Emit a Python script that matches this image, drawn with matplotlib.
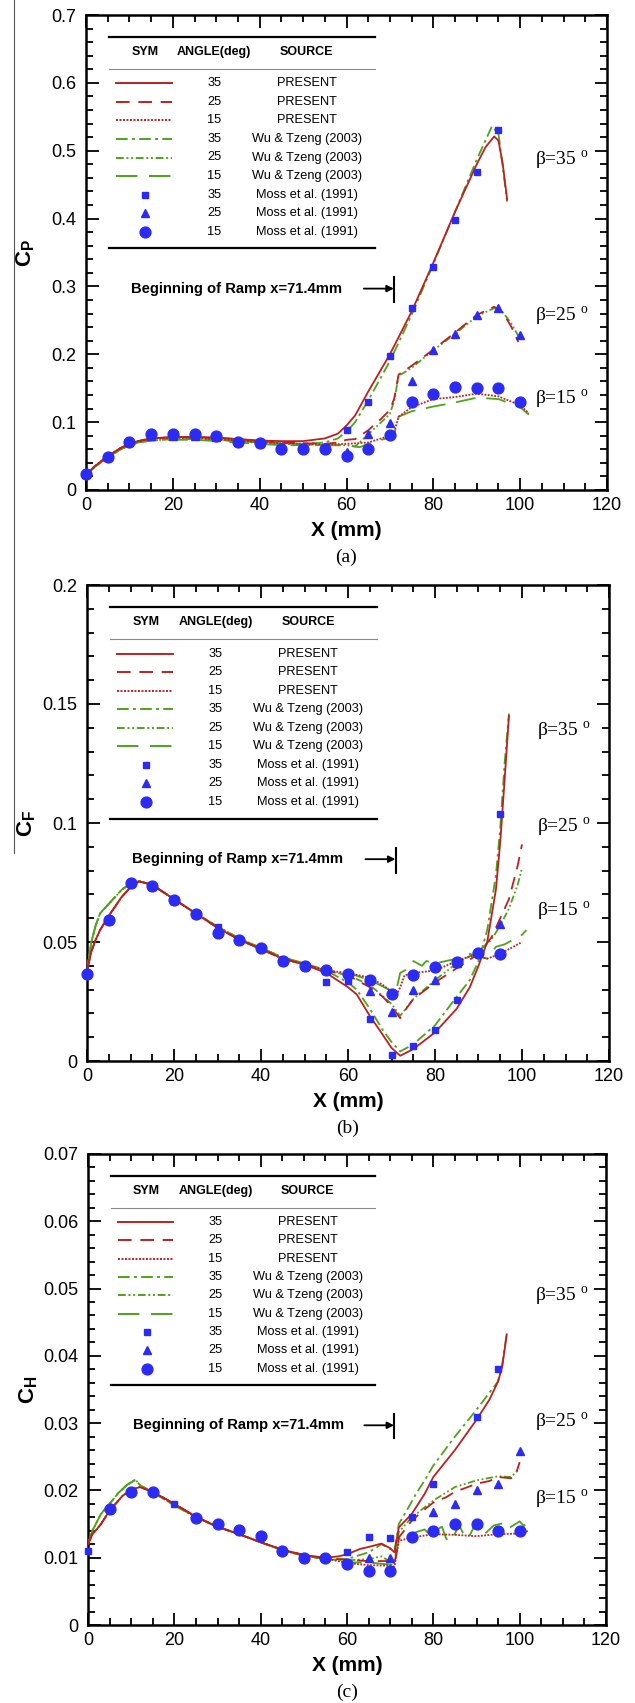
import numpy as np
import matplotlib
matplotlib.use('Agg')
import matplotlib.pyplot as plt
from matplotlib.lines import Line2D
from matplotlib.ticker import MultipleLocator, FuncFormatter
from matplotlib.transforms import blended_transform_factory

nan = np.nan

# ---------------- data ----------------
x_moss = list(range(0, 101, 5))

# (a) pressure coefficient
cp_moss35 = [0.024, 0.049, 0.071, 0.080, 0.080, 0.080, 0.078, 0.071, 0.069, 0.062, 0.062, 0.062,
             0.088, 0.129, 0.198, 0.268, 0.329, 0.398, 0.469, 0.530, nan]
cp_moss25 = [0.024, 0.049, 0.071, 0.080, 0.080, 0.080, 0.078, 0.071, 0.069, 0.062, 0.062, 0.062,
             0.056, 0.083, 0.099, 0.160, 0.207, 0.230, 0.258, 0.268, 0.228]
cp_moss15 = [0.024, 0.049, 0.071, 0.082, 0.082, 0.082, 0.079, 0.071, 0.069, 0.060, 0.060, 0.060,
             0.050, 0.060, 0.081, 0.129, 0.141, 0.152, 0.151, 0.150, 0.130]

cp_x_p35 = [0, 2, 5, 8, 10, 12, 15, 20, 25, 30, 35, 40, 45, 50, 55, 58, 60, 62, 65, 70, 75, 80, 85, 90, 92, 94, 95, 96, 97]
cp_p35 = [0.022, 0.035, 0.050, 0.062, 0.068, 0.072, 0.076, 0.078, 0.078, 0.077, 0.075, 0.073, 0.072, 0.072, 0.076,
          0.083, 0.095, 0.110, 0.145, 0.200, 0.263, 0.335, 0.410, 0.480, 0.505, 0.521, 0.515, 0.480, 0.428]
cp_x_w35 = [0, 2, 5, 8, 10, 12, 15, 20, 25, 30, 35, 40, 45, 50, 55, 58, 60, 62, 65, 70, 75, 80, 85, 90, 92, 93.5, 95, 96, 97]
cp_w35 = [0.022, 0.034, 0.048, 0.060, 0.066, 0.070, 0.073, 0.075, 0.075, 0.074, 0.072, 0.070, 0.069, 0.068, 0.070,
          0.076, 0.086, 0.100, 0.132, 0.190, 0.258, 0.333, 0.410, 0.487, 0.515, 0.536, 0.525, 0.475, 0.425]
cp_x_p25 = [0, 2, 5, 8, 10, 12, 15, 20, 25, 30, 35, 40, 45, 50, 55, 58, 60, 62, 65, 68, 70, 71, 72, 75, 80, 85, 90, 94, 96, 98, 99.6]
cp_p25 = [0.022, 0.035, 0.050, 0.062, 0.068, 0.072, 0.076, 0.078, 0.078, 0.077, 0.075, 0.072, 0.070, 0.069, 0.068,
          0.070, 0.074, 0.075, 0.088, 0.105, 0.118, 0.135, 0.170, 0.183, 0.207, 0.232, 0.258, 0.270, 0.262, 0.240, 0.218]
cp_x_w25 = [0, 2, 5, 8, 10, 12, 15, 20, 25, 30, 35, 40, 45, 50, 55, 58, 60, 62, 65, 68, 70, 71, 72, 75, 80, 85, 90, 94, 96, 98, 100]
cp_w25 = [0.022, 0.034, 0.048, 0.060, 0.066, 0.070, 0.073, 0.075, 0.075, 0.074, 0.072, 0.070, 0.068, 0.067, 0.066,
          0.066, 0.066, 0.064, 0.082, 0.100, 0.112, 0.132, 0.168, 0.180, 0.206, 0.230, 0.256, 0.268, 0.262, 0.245, 0.222]
cp_x_p15 = [0, 2, 5, 8, 10, 12, 15, 20, 25, 30, 35, 40, 45, 50, 55, 60, 65, 68, 70, 71, 72, 75, 80, 85, 90, 95, 100, 102]
cp_p15 = [0.022, 0.035, 0.050, 0.062, 0.068, 0.072, 0.076, 0.077, 0.077, 0.075, 0.073, 0.071, 0.069, 0.068, 0.067,
          0.068, 0.070, 0.076, 0.080, 0.085, 0.108, 0.122, 0.134, 0.137, 0.142, 0.138, 0.125, 0.113]
cp_x_w15 = [0, 2, 5, 8, 10, 12, 15, 20, 25, 30, 35, 40, 45, 50, 55, 60, 63, 65, 68, 70, 71, 72, 75, 80, 85, 90, 95, 100, 102]
cp_w15 = [0.022, 0.034, 0.048, 0.060, 0.066, 0.070, 0.073, 0.074, 0.074, 0.072, 0.070, 0.068, 0.066, 0.066, 0.066,
          0.066, 0.063, 0.068, 0.074, 0.077, 0.082, 0.108, 0.116, 0.123, 0.129, 0.136, 0.134, 0.122, 0.111]

# (b) skin friction coefficient
cf_moss35 = [0.0367, 0.0594, 0.0746, 0.0734, 0.0676, 0.0617, 0.0563, 0.0507, 0.0475, 0.0419, 0.0398, 0.0332,
             0.0336, 0.0178, 0.0024, 0.0062, 0.0129, 0.0255, 0.0458, 0.1037, nan]
cf_moss25 = [0.0367, 0.0594, 0.0746, 0.0734, 0.0676, 0.0617, 0.0538, 0.0507, 0.0475, 0.0419, 0.0398, 0.0381,
             0.0367, 0.0294, 0.0206, 0.0297, 0.0339, 0.0410, 0.0460, 0.0575, nan]
cf_moss15 = [0.0367, 0.0594, 0.0746, 0.0734, 0.0676, 0.0617, 0.0538, 0.0507, 0.0475, 0.0419, 0.0398, 0.0381,
             0.0367, 0.0339, 0.0283, 0.0360, 0.0395, 0.0416, 0.0454, 0.0451, nan]

cf_x_p35 = [0, 1, 2, 3, 5, 8, 10, 12, 15, 20, 25, 30, 35, 40, 45, 50, 55, 60, 62, 65, 68, 70, 72, 75, 80, 85, 88, 90, 92, 94, 95, 96, 97]
cf_p35 = [0.038, 0.046, 0.051, 0.055, 0.061, 0.069, 0.073, 0.0755, 0.074, 0.068, 0.062, 0.056, 0.051, 0.047, 0.043,
          0.0405, 0.037, 0.031, 0.028, 0.019, 0.011, 0.0055, 0.0022, 0.005, 0.012, 0.022, 0.031, 0.040, 0.050, 0.072,
          0.092, 0.118, 0.145]
cf_x_w35 = cf_x_p35
cf_w35 = [0.038, 0.050, 0.057, 0.062, 0.066, 0.072, 0.0745, 0.0755, 0.074, 0.068, 0.062, 0.0565, 0.0515, 0.0475, 0.0435,
          0.041, 0.038, 0.033, 0.030, 0.022, 0.013, 0.008, 0.004, 0.007, 0.015, 0.027, 0.034, 0.042, 0.055, 0.078,
          0.098, 0.125, 0.146]
cf_x_p25 = [0, 1, 2, 3, 5, 8, 10, 12, 15, 20, 25, 30, 35, 40, 45, 50, 55, 60, 65, 68, 70, 72, 73, 75, 80, 85, 90, 93, 95, 97, 99, 100]
cf_p25 = [0.038, 0.046, 0.051, 0.055, 0.061, 0.069, 0.073, 0.0755, 0.074, 0.068, 0.062, 0.056, 0.051, 0.047, 0.043,
          0.0405, 0.038, 0.036, 0.031, 0.027, 0.023, 0.018, 0.021, 0.026, 0.033, 0.039, 0.045, 0.052, 0.060, 0.068,
          0.082, 0.091]
cf_x_w25 = [0, 1, 2, 3, 5, 8, 10, 12, 15, 20, 25, 30, 35, 40, 45, 50, 55, 60, 65, 70, 72, 75, 80, 85, 90, 93, 95, 97, 99, 100]
cf_w25 = [0.038, 0.050, 0.057, 0.062, 0.066, 0.072, 0.0745, 0.0755, 0.074, 0.068, 0.062, 0.0565, 0.0515, 0.0475, 0.0435,
          0.041, 0.038, 0.036, 0.032, 0.024, 0.019, 0.026, 0.034, 0.041, 0.046, 0.051, 0.057, 0.064, 0.074, 0.081]
cf_x_p15 = [0, 1, 2, 3, 5, 8, 10, 12, 15, 20, 25, 30, 35, 40, 45, 50, 55, 60, 65, 68, 70, 71, 72, 73, 75, 80, 85, 88, 90, 92, 95, 100]
cf_p15 = [0.038, 0.046, 0.051, 0.055, 0.061, 0.069, 0.073, 0.0755, 0.074, 0.068, 0.062, 0.056, 0.051, 0.047, 0.043,
          0.0405, 0.038, 0.037, 0.035, 0.032, 0.029, 0.027, 0.031, 0.036, 0.037, 0.038, 0.042, 0.044, 0.044, 0.043,
          0.045, 0.050]
cf_x_w15 = [0, 1, 2, 3, 5, 8, 10, 12, 15, 20, 25, 30, 35, 40, 45, 50, 55, 60, 65, 70, 71, 72, 74, 75, 77, 78, 80, 85, 88, 90,
            92, 94, 96, 98, 100, 101]
cf_w15 = [0.038, 0.050, 0.057, 0.062, 0.066, 0.072, 0.0745, 0.0755, 0.074, 0.068, 0.062, 0.0565, 0.0515, 0.0475, 0.0435,
          0.041, 0.038, 0.037, 0.034, 0.0295, 0.029, 0.037, 0.039, 0.042, 0.040, 0.042, 0.041, 0.043, 0.045, 0.044,
          0.043, 0.048, 0.049, 0.051, 0.053, 0.055]

# (c) heat transfer coefficient
ch_moss35 = [0.0110, 0.0173, 0.0198, 0.0198, 0.0180, 0.0159, 0.0150, 0.0141, 0.0132, 0.0110, 0.0100, 0.0100,
             0.0109, 0.0131, 0.0130, 0.0161, 0.0209, nan, 0.0309, 0.0380, nan]
ch_moss25 = [nan, nan, nan, nan, nan, nan, nan, nan, nan, nan, nan, nan,
             nan, 0.0100, 0.0100, nan, 0.0168, 0.0180, 0.0200, 0.0209, 0.0259]
ch_moss15 = [nan, 0.0173, 0.0198, 0.0198, nan, 0.0159, 0.0150, 0.0141, 0.0132, 0.0110, 0.0100, 0.0100,
             0.0091, 0.0080, 0.0080, 0.0131, 0.0140, 0.0150, 0.0150, 0.0140, 0.0140]

ch_x_p35 = [0, 1, 2, 3, 5, 8, 10, 12, 15, 20, 25, 30, 35, 40, 45, 50, 55, 58, 60, 63, 65, 68, 70, 71, 72, 75, 78, 80, 85, 90,
            93, 95, 96, 97]
ch_p35 = [0.0120, 0.0135, 0.0142, 0.0150, 0.0170, 0.0192, 0.0201, 0.0205, 0.0198, 0.0180, 0.0161, 0.0146, 0.0135,
          0.0123, 0.0112, 0.0104, 0.0100, 0.0102, 0.0105, 0.0113, 0.0116, 0.0121, 0.0114, 0.0108, 0.0145, 0.0165,
          0.0195, 0.0220, 0.0260, 0.0305, 0.0335, 0.0362, 0.0385, 0.0432]
ch_x_w35 = [0, 1, 3, 5, 7, 9, 10, 11, 12, 15, 20, 25, 30, 35, 40, 45, 50, 55, 60, 65, 68, 70, 71, 72, 74, 76, 78, 80, 85, 90,
            95, 96, 97]
ch_w35 = [0.0120, 0.0140, 0.0165, 0.0180, 0.0196, 0.0208, 0.0212, 0.0216, 0.0208, 0.0197, 0.0178, 0.0160, 0.0146,
          0.0135, 0.0123, 0.0111, 0.0103, 0.0098, 0.0098, 0.0108, 0.0120, 0.0113, 0.0110, 0.0150, 0.0172, 0.0195,
          0.0215, 0.0237, 0.0280, 0.0320, 0.0362, 0.0390, 0.0432]
ch_x_p25 = [0, 1, 2, 3, 5, 8, 10, 12, 15, 20, 25, 30, 35, 40, 45, 50, 55, 60, 65, 70, 71, 72, 75, 78, 80, 83, 85, 88, 90, 93,
            95, 98, 99, 100]
ch_p25 = [0.0120, 0.0135, 0.0142, 0.0150, 0.0170, 0.0192, 0.0201, 0.0205, 0.0198, 0.0180, 0.0161, 0.0146, 0.0135,
          0.0123, 0.0112, 0.0104, 0.0099, 0.0097, 0.0095, 0.0095, 0.0090, 0.0130, 0.0155, 0.0172, 0.0182, 0.0190,
          0.0198, 0.0205, 0.0210, 0.0214, 0.0220, 0.0218, 0.0222, 0.0242]
ch_x_w25 = [0, 1, 3, 5, 7, 9, 10, 11, 12, 15, 20, 25, 30, 35, 40, 45, 50, 55, 60, 65, 68, 70, 71, 72, 75, 78, 80, 85, 90, 95,
            98, 100]
ch_w25 = [0.0120, 0.0140, 0.0165, 0.0180, 0.0196, 0.0208, 0.0212, 0.0216, 0.0208, 0.0197, 0.0178, 0.0160, 0.0146,
          0.0135, 0.0123, 0.0111, 0.0103, 0.0098, 0.0096, 0.0098, 0.0102, 0.0094, 0.0092, 0.0138, 0.0160, 0.0175,
          0.0185, 0.0205, 0.0215, 0.0221, 0.0220, 0.0232]
ch_x_p15 = [0, 1, 2, 3, 5, 8, 10, 12, 15, 20, 25, 30, 35, 40, 45, 50, 55, 60, 65, 70, 71, 72, 75, 80, 85, 90, 95, 100, 102]
ch_p15 = [0.0120, 0.0135, 0.0142, 0.0150, 0.0170, 0.0192, 0.0201, 0.0205, 0.0198, 0.0180, 0.0161, 0.0146, 0.0135,
          0.0123, 0.0112, 0.0104, 0.0099, 0.0092, 0.0089, 0.0088, 0.0087, 0.0125, 0.0130, 0.0135, 0.0134, 0.0132,
          0.0135, 0.0136, 0.0140]
ch_x_w15 = [0, 1, 3, 5, 7, 9, 10, 11, 12, 15, 20, 25, 30, 35, 40, 45, 50, 55, 60, 65, 68, 70, 71, 72, 74, 76, 78, 79, 80, 82,
            83, 84, 86, 87, 88, 90, 91, 92, 94, 96, 97, 98, 100, 101, 102]
ch_w15 = [0.0120, 0.0140, 0.0165, 0.0180, 0.0196, 0.0208, 0.0212, 0.0216, 0.0208, 0.0197, 0.0178, 0.0160, 0.0146,
          0.0135, 0.0123, 0.0111, 0.0103, 0.0098, 0.0093, 0.0093, 0.0091, 0.0090, 0.0089, 0.0128, 0.0133, 0.0138,
          0.0142, 0.0135, 0.0139, 0.0146, 0.0128, 0.0124, 0.0148, 0.0135, 0.0128, 0.0153, 0.0140, 0.0136, 0.0148,
          0.0151, 0.0143, 0.0146, 0.0154, 0.0147, 0.0157]

angles = ['35', '25', '15']
sources = ['PRESENT', 'Wu & Tzeng (2003)', 'Moss et al. (1991)']

# ---------------- style ----------------
RED = '#bb2020'
GREEN = '#4fa31b'
BLUE = '#2b2bf5'
present_styles = ['-', (0, (7, 4.5)), (0, (1, 0.8))]
wu_styles = [(0, (6, 2.2, 1.5, 2.2)), (0, (4, 1.4, 1, 1.4, 1, 1.4)), (0, (11, 6))]
moss_markers = [('s', 5.0), ('^', 6.0), ('o', 7.8)]

plt.rcParams['font.family'] = 'Liberation Sans'
plt.rcParams['mathtext.fontset'] = 'custom'
plt.rcParams['mathtext.rm'] = 'Liberation Serif'
plt.rcParams['mathtext.bf'] = 'Liberation Sans:bold'

fig = plt.figure(figsize=(6.35, 17.03), dpi=100)
W, H = 635.0, 1703.0


def make_axes(left, right, top, bottom):
    return fig.add_axes([left / W, 1 - bottom / H, (right - left) / W, (bottom - top) / H])


def table_legend(ax):
    ax.plot([0.044, 0.555], [0.954, 0.954], transform=ax.transAxes, color='k', lw=1.6, clip_on=False)
    ax.plot([0.044, 0.555], [0.886, 0.886], transform=ax.transAxes, color='#888888', lw=0.8, clip_on=False)
    ax.plot([0.044, 0.555], [0.509, 0.509], transform=ax.transAxes, color='k', lw=1.6, clip_on=False)
    for x, s in [(0.113, 'SYM'), (0.246, 'ANGLE(deg)'), (0.424, 'SOURCE')]:
        ax.text(x, 0.922, s, transform=ax.transAxes, ha='center', va='center', fontsize=9, fontweight='bold')
    ys = 0.856 - 0.039 * np.arange(9)
    i = 0
    for k, src in enumerate(sources):
        for j, ang in enumerate(angles):
            y = ys[i]
            if k == 0:
                ax.plot([0.058, 0.165], [y, y], transform=ax.transAxes, color=RED, lw=1.4,
                        linestyle=present_styles[j], clip_on=False)
            elif k == 1:
                ax.plot([0.058, 0.165], [y, y], transform=ax.transAxes, color=GREEN, lw=1.4,
                        linestyle=wu_styles[j], clip_on=False)
            else:
                m, ms = moss_markers[j]
                ax.plot([0.113], [y], transform=ax.transAxes, marker=m, ms=ms, color=BLUE, ls='none',
                        clip_on=False)
            ax.text(0.246, y, ang, transform=ax.transAxes, ha='center', va='center', fontsize=9.2)
            ax.text(0.424, y, src, transform=ax.transAxes, ha='center', va='center', fontsize=9.2)
            i += 1


def panel(ax, curves, moss, ymax, ymajor, yminor, ylabel, beta_y, tag):
    # curves: present 35/25/15 then wu 35/25/15
    for j in range(3):
        x, y = curves[3 + j]
        ax.plot(x, y, color=GREEN, lw=1.3, linestyle=wu_styles[j], zorder=3)
    for j in range(3):
        x, y = curves[j]
        ax.plot(x, y, color=RED, lw=1.3, linestyle=present_styles[j], zorder=4)
    for j in range(3):
        m, ms = moss_markers[j]
        ax.plot(x_moss, moss[j], marker=m, ms=ms, color=BLUE, ls='none', zorder=5, clip_on=False)

    ax.set_xlim(0, 120)
    ax.set_ylim(0, ymax)
    ax.xaxis.set_major_locator(MultipleLocator(20))
    ax.xaxis.set_minor_locator(MultipleLocator(5))
    ax.yaxis.set_major_locator(MultipleLocator(ymajor))
    ax.yaxis.set_minor_locator(MultipleLocator(yminor))
    ax.yaxis.set_major_formatter(FuncFormatter(lambda v, p: '%g' % round(v, 5)))
    ax.tick_params(which='both', direction='in', top=True, right=True, width=1.3)
    ax.tick_params(which='major', length=9, labelsize=13, pad=5)
    ax.tick_params(axis='y', which='major', pad=7)
    ax.tick_params(which='minor', length=5)
    for sp in ax.spines.values():
        sp.set_linewidth(1.8)

    ax.annotate('X (mm)', xy=(0.5, 0), xycoords='axes fraction', xytext=(0, -29), textcoords='offset points',
                ha='center', va='center', fontsize=15, fontweight='bold')
    ax.annotate(tag, xy=(0.5, 0), xycoords='axes fraction', xytext=(0, -48.5), textcoords='offset points',
                ha='center', va='center', fontsize=14, family='Liberation Serif')
    ax.text(-0.115, 0.5, ylabel, transform=ax.transAxes, rotation=90, ha='center', va='center', fontsize=16)

    tr = blended_transform_factory(ax.transData, ax.transAxes)
    for b, y in zip(angles, beta_y):
        ax.text(103.5, y, 'β=' + b + r' $^{\mathrm{o}}$', transform=tr,
                ha='left', va='center', fontsize=14, family='Liberation Serif')

    # beginning of ramp marker
    ax.text(0.087, 0.424, 'Beginning of Ramp x=71.4mm', transform=ax.transAxes, ha='left', va='center',
            fontsize=10.6, fontweight='bold')
    ax.annotate('', xy=(70.9, 0.424), xycoords=tr, xytext=(64.0, 0.424), textcoords=tr,
                arrowprops=dict(arrowstyle='-|>', color='k', lw=1.3, mutation_scale=10, shrinkA=0, shrinkB=0))
    ax.plot([71, 71], [0.396, 0.448], transform=tr, color='k', lw=1.5)

    table_legend(ax)


ax_a = make_axes(86, 607, 15, 490)
panel(ax_a,
      [(cp_x_p35, cp_p35), (cp_x_p25, cp_p25), (cp_x_p15, cp_p15),
       (cp_x_w35, cp_w35), (cp_x_w25, cp_w25), (cp_x_w15, cp_w15)],
      [cp_moss35, cp_moss25, cp_moss15], 0.7, 0.1, 0.02, r'$\mathbf{C_P}$', [0.695, 0.365, 0.190], '(a)')

ax_b = make_axes(87, 609, 585, 1061)
panel(ax_b,
      [(cf_x_p35, cf_p35), (cf_x_p25, cf_p25), (cf_x_p15, cf_p15),
       (cf_x_w35, cf_w35), (cf_x_w25, cf_w25), (cf_x_w15, cf_w15)],
      [cf_moss35, cf_moss25, cf_moss15], 0.2, 0.05, 0.01, r'$\mathbf{C_F}$', [0.692, 0.492, 0.314], '(b)')

ax_c = make_axes(88, 606, 1154, 1625)
panel(ax_c,
      [(ch_x_p35, ch_p35), (ch_x_p25, ch_p25), (ch_x_p15, ch_p15),
       (ch_x_w35, ch_w35), (ch_x_w25, ch_w25), (ch_x_w15, ch_w15)],
      [ch_moss35, ch_moss25, ch_moss15], 0.07, 0.01, 0.002, r'$\mathbf{C_H}$', [0.697, 0.431, 0.267], '(c)')

# thin scan line at the left edge of the page
fig.add_artist(Line2D([14 / W, 14 / W], [1.0, 1 - 853 / H], color='#555555', lw=0.8))

fig.savefig('out.png', dpi=100)
